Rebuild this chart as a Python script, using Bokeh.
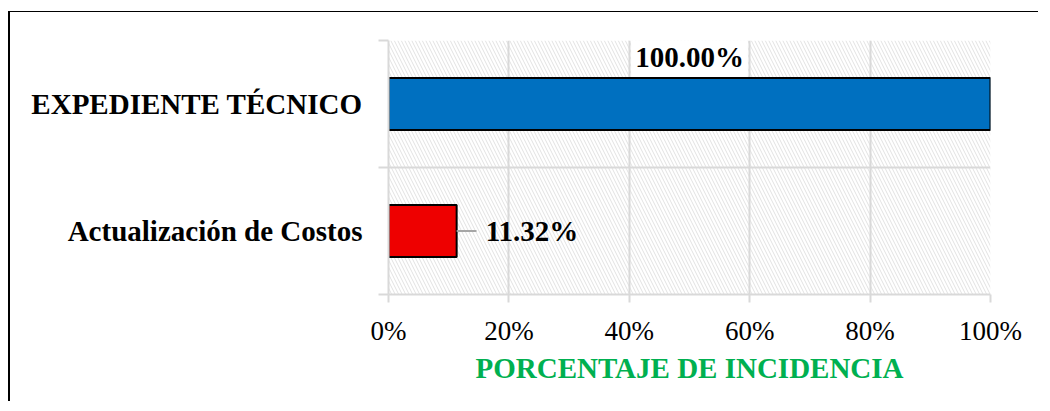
from bokeh.plotting import figure
from bokeh.models import (Range1d, FixedTicker, NumeralTickFormatter, BoxAnnotation,
                          Label, ColumnDataSource)
from bokeh.embed import file_html
from bokeh.resources import INLINE

categories = ["Actualización de Costos", "EXPEDIENTE TÉCNICO"]
values = [0.1132, 1.0]
bar_colors = ["#EE0000", "#0070C0"]
value_labels = ["11.32%", "100.00%"]
x_ticks = [0, 0.2, 0.4, 0.6, 0.8, 1.0]
x_title = "PORCENTAJE DE INCIDENCIA"

FONT = "Liberation Serif"
GRID = "#D9D9D9"

ypos = [i + 0.5 for i in range(len(categories))]

p = figure(width=1030, height=390, output_backend="svg", toolbar_location=None,
           x_range=Range1d(0, 1), y_range=Range1d(0, len(categories)),
           min_border_left=378, min_border_right=50, min_border_top=28,
           min_border_bottom=108)
p.outline_line_color = None
p.styles = {"border-left": "2px solid black", "border-top": "1px solid black",
            "margin-left": "8px", "margin-top": "11px"}

# hatched plot area
hatch = BoxAnnotation(fill_color=None, line_color=None, hatch_pattern="\\",
                      hatch_color="#E2E2E2", hatch_scale=7, hatch_weight=1,
                      level="image")
p.add_layout(hatch)

src = ColumnDataSource(dict(y=ypos, right=values, color=bar_colors))
p.hbar(y="y", left=0, right="right", height=0.41, fill_color="color",
       line_color="black", line_width=2, source=src)

# x axis
p.xaxis.ticker = FixedTicker(ticks=x_ticks)
p.xaxis.formatter = NumeralTickFormatter(format="0%")
p.xaxis.axis_line_color = GRID
p.xaxis.axis_line_width = 2
p.xaxis.major_tick_line_color = GRID
p.xaxis.major_tick_line_width = 2
p.xaxis.major_tick_out = 8
p.xaxis.major_tick_in = 0
p.xaxis.minor_tick_line_color = None
p.xaxis.major_label_text_font = FONT
p.xaxis.major_label_text_font_size = "27px"
p.xaxis.major_label_text_color = "black"
p.xaxis.major_label_standoff = 13
p.xaxis.axis_label = x_title
p.xaxis.axis_label_text_font = FONT
p.xaxis.axis_label_text_font_size = "29px"
p.xaxis.axis_label_text_font_style = "bold"
p.xaxis.axis_label_text_color = "#00B050"
p.xaxis.axis_label_standoff = 3

# y axis
p.yaxis.ticker = FixedTicker(ticks=ypos, minor_ticks=list(range(len(categories) + 1)))
p.yaxis.major_label_overrides = {y: c for y, c in zip(ypos, categories)}
p.yaxis.axis_line_color = GRID
p.yaxis.axis_line_width = 2
p.yaxis.major_tick_line_color = None
p.yaxis.major_tick_out = 10
p.yaxis.major_tick_in = 0
p.yaxis.minor_tick_line_color = GRID
p.yaxis.minor_tick_line_width = 2
p.yaxis.minor_tick_out = 10
p.yaxis.minor_tick_in = 0
p.yaxis.major_label_text_font = FONT
p.yaxis.major_label_text_font_size = "29px"
p.yaxis.major_label_text_font_style = "bold"
p.yaxis.major_label_text_color = "black"
p.yaxis.major_label_standoff = 16

# grids
p.xgrid.ticker = FixedTicker(ticks=x_ticks)
p.xgrid.grid_line_color = GRID
p.xgrid.grid_line_width = 2
p.ygrid.ticker = FixedTicker(ticks=list(range(len(categories) + 1)))
p.ygrid.grid_line_color = GRID
p.ygrid.grid_line_width = 2

# data labels
for y, v, t in zip(ypos, values, value_labels):
    if v >= 0.5:
        p.add_layout(Label(x=v / 2, y=y, y_offset=47, text=t, text_font=FONT,
                           text_font_size="29px", text_font_style="bold",
                           text_color="black",
                           text_align="center", text_baseline="middle",
                           background_fill_color="white", padding=4))
    else:
        p.segment(x0=[v], x1=[v + 0.033], y0=[y], y1=[y], line_color="#A6A6A6",
                  line_width=2)
        p.add_layout(Label(x=v, y=y, x_offset=29, text=t, text_font=FONT,
                           text_font_size="29px", text_font_style="bold",
                           text_color="black",
                           text_align="left", text_baseline="middle"))

open("out.html", "w").write(file_html(p, INLINE))
